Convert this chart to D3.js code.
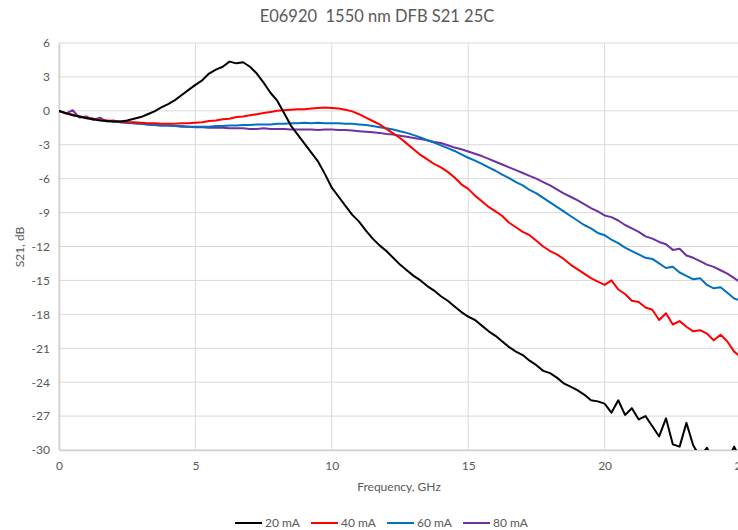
<!DOCTYPE html>
<html>
<head>
<meta charset="utf-8">
<script src="https://cdn.jsdelivr.net/npm/d3@7"></script>
<style>
  body { margin: 0; background: #fff; overflow: hidden; }
  text { font-family: Lato, "Open Sans", sans-serif; fill: #595959; }
</style>
</head>
<body>
<svg id="chart" width="738" height="530"></svg>
<script>
// frequency grid, GHz (0 .. 25, step 0.25)
let freq = d3.range(0, 101).map(i => i * 0.25);

let s20 = [0, -0.2, -0.4, -0.5, -0.65, -0.75, -0.85, -0.9, -0.95, -0.95,
    -0.85, -0.7, -0.55, -0.3, -0.05, 0.3, 0.6, 0.95, 1.4, 1.85,
    2.3, 2.7, 3.3, 3.65, 3.9, 4.35, 4.2, 4.3, 3.9, 3.3,
    2.5, 1.6, 0.9, -0.2, -1.3, -2.1, -2.9, -3.7, -4.5, -5.6,
    -6.8, -7.6, -8.4, -9.2, -9.8, -10.6, -11.3, -11.9, -12.4, -13.0,
    -13.6, -14.1, -14.6, -15.0, -15.5, -15.9, -16.4, -16.8, -17.3, -17.8,
    -18.2, -18.5, -19.0, -19.5, -19.9, -20.4, -20.9, -21.3, -21.6, -22.1,
    -22.5, -23.0, -23.2, -23.6, -24.1, -24.4, -24.7, -25.1, -25.6, -25.7,
    -25.9, -26.7, -25.6, -26.9, -26.3, -27.3, -27.0, -27.9, -28.8, -27.2,
    -29.5, -29.7, -27.6, -29.6, -30.6, -29.8, -31, -31, -31, -29.7, -31];

let s40 = [0, -0.2, -0.35, -0.5, -0.6, -0.7, -0.8, -0.85, -0.9, -0.95,
    -1.0, -1.0, -1.05, -1.1, -1.1, -1.15, -1.15, -1.15, -1.1, -1.1,
    -1.05, -1.0, -0.9, -0.85, -0.75, -0.7, -0.55, -0.5, -0.4, -0.3,
    -0.2, -0.1, 0.0, 0.05, 0.1, 0.15, 0.15, 0.2, 0.25, 0.3,
    0.25, 0.2, 0.1, -0.05, -0.3, -0.6, -0.9, -1.2, -1.6, -2.0,
    -2.4, -2.9, -3.4, -3.9, -4.3, -4.7, -5.0, -5.4, -5.9, -6.5,
    -6.9, -7.5, -8.0, -8.5, -8.9, -9.3, -9.9, -10.3, -10.7, -11.0,
    -11.5, -12.0, -12.4, -12.7, -13.1, -13.6, -14.0, -14.4, -14.8, -15.1,
    -15.4, -15.0, -15.8, -16.2, -16.8, -16.9, -17.4, -17.6, -18.5, -17.9,
    -18.9, -18.6, -19.1, -19.5, -19.4, -19.7, -20.3, -19.8, -20.4, -21.3, -21.8];

let s60 = [0, -0.2, -0.35, -0.5, -0.6, -0.7, -0.8, -0.9, -0.95, -1.0,
    -1.05, -1.1, -1.15, -1.2, -1.25, -1.3, -1.3, -1.35, -1.35, -1.4,
    -1.4, -1.4, -1.4, -1.35, -1.35, -1.3, -1.3, -1.25, -1.25, -1.2,
    -1.2, -1.2, -1.15, -1.15, -1.1, -1.1, -1.05, -1.1, -1.05, -1.1,
    -1.1, -1.1, -1.15, -1.15, -1.2, -1.25, -1.35, -1.45, -1.55, -1.65,
    -1.8, -1.95, -2.15, -2.35, -2.6, -2.8, -3.05, -3.3, -3.55, -3.85,
    -4.15, -4.4, -4.7, -5.0, -5.3, -5.65, -5.95, -6.3, -6.6, -7.0,
    -7.3, -7.7, -8.1, -8.5, -8.9, -9.3, -9.7, -10.1, -10.4, -10.8,
    -11.0, -11.4, -11.7, -12.1, -12.4, -12.7, -13.0, -13.1, -13.5, -13.9,
    -13.8, -14.3, -14.6, -14.9, -14.8, -15.4, -15.7, -15.6, -16.1, -16.6, -16.8];

let s80 = [0, -0.25, 0.05, -0.6, -0.5, -0.8, -0.6, -0.95, -0.85, -1.0,
    -1.05, -1.1, -1.15, -1.2, -1.25, -1.3, -1.3, -1.35, -1.4, -1.4,
    -1.45, -1.45, -1.5, -1.5, -1.5, -1.55, -1.55, -1.55, -1.6, -1.6,
    -1.55, -1.6, -1.6, -1.6, -1.65, -1.65, -1.65, -1.65, -1.7, -1.65,
    -1.65, -1.7, -1.7, -1.75, -1.8, -1.85, -1.9, -1.95, -2.05, -2.1,
    -2.2, -2.3, -2.4, -2.5, -2.6, -2.75, -2.85, -3.05, -3.25, -3.4,
    -3.6, -3.8, -4.0, -4.25, -4.5, -4.75, -5.0, -5.25, -5.5, -5.75,
    -6.0, -6.3, -6.6, -6.95, -7.3, -7.6, -7.9, -8.25, -8.6, -8.9,
    -9.25, -9.4, -9.7, -10.1, -10.4, -10.7, -11.1, -11.3, -11.6, -11.8,
    -12.3, -12.2, -12.8, -13.0, -13.3, -13.6, -13.8, -14.1, -14.4, -14.8, -15.2];

let seriesNames = ["20 mA", "40 mA", "60 mA", "80 mA"];
let seriesColors = ["#000000", "#ff0000", "#0070c0", "#7030a0"];
let seriesValues = [s20, s40, s60, s80];

let xTicks = [0, 5, 10, 15, 20, 25];
let yTicks = [6, 3, 0, -3, -6, -9, -12, -15, -18, -21, -24, -27, -30];

let svg = d3.select("#chart");

let x = d3.scaleLinear().domain([0, 25]).range([59, 741]);
let y = d3.scaleLinear().domain([-30, 6]).range([450, 43]);

// gridlines
let grid = svg.append("g");
grid.selectAll("line.h")
    .data(yTicks).enter().append("line")
    .attr("x1", x(0)).attr("x2", x(25))
    .attr("y1", d => y(d)).attr("y2", d => y(d))
    .attr("stroke", "#d9d9d9").attr("stroke-width", 1);
grid.selectAll("line.v")
    .data(xTicks).enter().append("line")
    .attr("x1", d => x(d)).attr("x2", d => x(d))
    .attr("y1", y(6)).attr("y2", y(-30))
    .attr("stroke", "#d9d9d9").attr("stroke-width", 1);

// axes (labels only, Excel style)
let xAxis = svg.append("g")
    .attr("transform", "translate(0," + y(-30) + ")")
    .call(d3.axisBottom(x).tickValues(xTicks).tickSize(0).tickPadding(11));
let yAxis = svg.append("g")
    .attr("transform", "translate(" + x(0) + ",0)")
    .call(d3.axisLeft(y).tickValues(yTicks).tickSize(0).tickPadding(9).tickFormat(d3.format("d")));
[xAxis, yAxis].forEach(a => {
    a.select(".domain").attr("stroke", "#d0d0d0").attr("stroke-width", 1.5);
    a.selectAll("text").attr("font-size", 12).attr("font-family", "Lato, sans-serif").attr("fill", "#595959");
});
yAxis.selectAll("text").text(d => d < 0 ? "-" + Math.abs(d) : d);

// clip to plot area
svg.append("clipPath").attr("id", "plot")
    .append("rect")
    .attr("x", x(0)).attr("y", y(6))
    .attr("width", x(25) - x(0)).attr("height", y(-30) - y(6));

let line = d3.line()
    .x((d, i) => x(freq[i]))
    .y(d => y(d));

svg.append("g").attr("clip-path", "url(#plot)")
    .selectAll("path")
    .data(seriesValues.map((v, i) => ({values: v, color: seriesColors[i]})).reverse())
    .enter().append("path")
    .attr("d", d => line(d.values))
    .attr("fill", "none")
    .attr("stroke", d => d.color)
    .attr("stroke-width", 2)
    .attr("stroke-linejoin", "round");

// titles
svg.append("text")
    .attr("x", 377).attr("y", 22)
    .attr("text-anchor", "middle")
    .attr("font-size", 16.5)
    .attr("xml:space", "preserve")
    .text("E06920  1550 nm DFB S21 25C");

svg.append("text")
    .attr("x", 399).attr("y", 491)
    .attr("text-anchor", "middle")
    .attr("font-size", 12)
    .text("Frequency, GHz");

svg.append("text")
    .attr("transform", "translate(24,247) rotate(-90)")
    .attr("text-anchor", "middle")
    .attr("font-size", 12)
    .text("S21, dB");

// legend
let legendX = [235, 311, 387, 463];
let legend = svg.append("g").selectAll("g")
    .data(seriesNames).enter().append("g")
    .attr("transform", (d, i) => "translate(" + legendX[i] + ",523)");
legend.append("line")
    .attr("x1", 0).attr("x2", 27)
    .attr("stroke", (d, i) => seriesColors[i])
    .attr("stroke-width", 2);
legend.append("text")
    .attr("x", 30).attr("y", 4)
    .attr("font-size", 12)
    .text(d => d);
</script>
</body>
</html>
